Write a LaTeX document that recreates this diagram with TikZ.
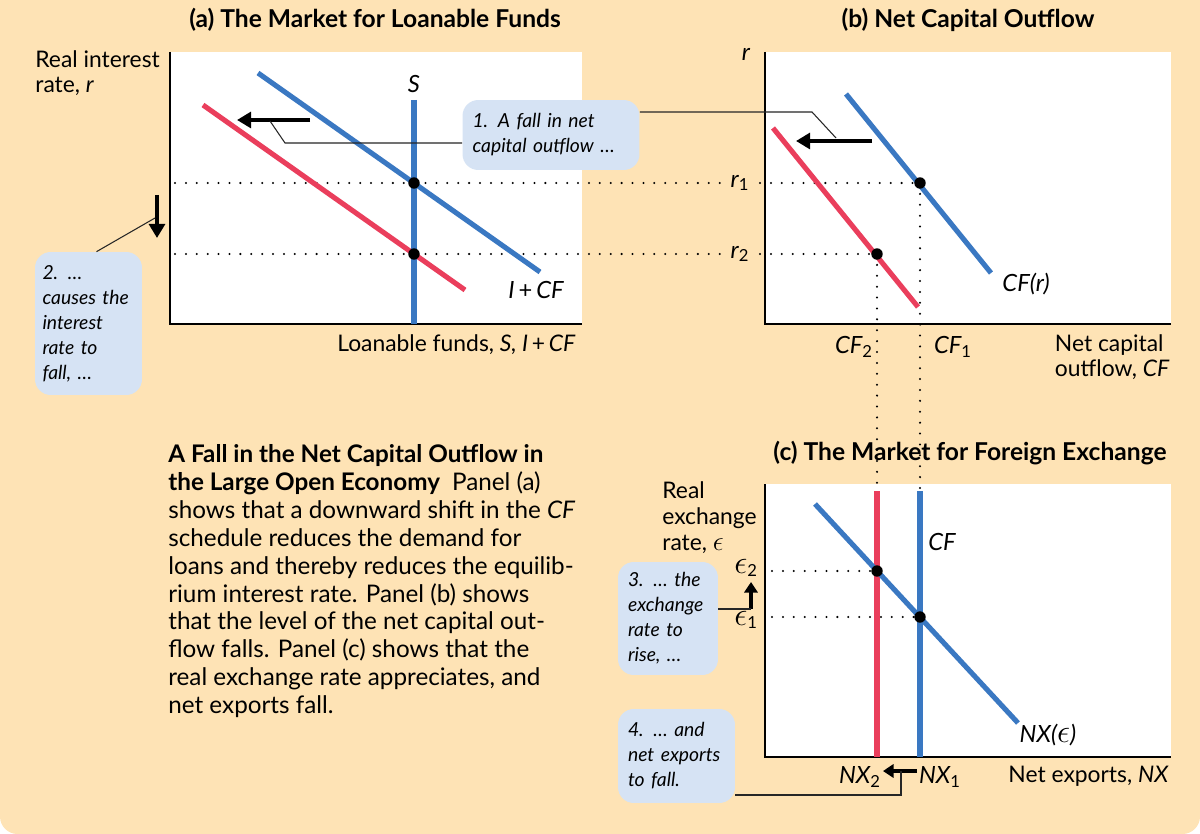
\documentclass[tikz,border=0pt]{standalone}
\usepackage{amsmath}
\usepackage{fontspec}
\setmainfont{Lato}
\usetikzlibrary{arrows.meta, positioning, calc}
\definecolor{bgpeach}{RGB}{254,227,181}
\definecolor{curveblue}{RGB}{58,120,194}
\definecolor{curvered}{RGB}{234,62,92}
\definecolor{notefill}{RGB}{214,227,244}
\newcommand{\paneltitlefont}{\fontsize{14}{16}\selectfont\bfseries}
\newcommand{\axislabelfont}{\fontsize{13}{14.4}\selectfont}
\newcommand{\curvelabelfont}{\fontsize{13.5}{15}\selectfont\itshape}
\newcommand{\calloutfont}{\fontsize{11}{14.2}\selectfont\itshape}
\newcommand{\captionfont}{\fontsize{13.8}{15.9}\selectfont}
\newcommand{\subidx}[1]{$_{\textup{#1}}$}
\newcommand{\exeps}{\scalebox{1.3}{$\epsilon$}}

\begin{document}
\begin{tikzpicture}[x=0.02cm, y=-0.02cm,
  plotbg/.style={fill=white},
  axisline/.style={line width=0.8pt},
  bluecurve/.style={draw=curveblue, line width=2.9pt},
  redcurve/.style={draw=curvered, line width=2.9pt},
  guide/.style={line width=1.3pt, dash pattern=on 0pt off 6.2pt, line cap=round},
  eqpt/.style={circle, fill=black, inner sep=0pt, minimum size=6.5pt},
  shiftarr/.style={-{Triangle[length=8pt, width=9pt]}, line width=2.8pt},
  smallarr/.style={-{Triangle[length=6pt, width=7.5pt]}, line width=2.4pt},
  leader/.style={line width=0.6pt, draw=black!85},
  note/.style={fill=notefill, rounded corners=9pt, align=left, inner xsep=0.2cm, inner ysep=0pt, font=\calloutfont},
  ptitle/.style={font=\paneltitlefont, inner sep=0pt},
  axlab/.style={font=\axislabelfont, align=left, inner sep=0pt},
  crvlab/.style={font=\curvelabelfont, inner sep=0pt}
]
  \useasboundingbox (0,0) rectangle (1200,834);
  \begin{scope}
    \clip (0,0) rectangle (1200,834);
    \fill[bgpeach, rounded corners=0.35cm] (0,-40) rectangle (1200,834);
  \end{scope}

  % panel titles
  \node[ptitle] (ta) at (375,20) {(a) The Market for Loanable Funds};
  \node[ptitle] (tb) at (968,20) {(b) Net Capital Outflow};
  \node[ptitle] (tc) at (970,453) {(c) The Market for Foreign Exchange};

  % plot areas
  \fill[plotbg] (170,52) rectangle (582,324);
  \fill[plotbg] (765,52) rectangle (1171,324);
  \fill[plotbg] (765,484) rectangle (1171,757);
  \draw[axisline] (170,52) -- (170,324) -- (582,324);
  \draw[axisline] (765,52) -- (765,324) -- (1171,324);
  \draw[axisline] (765,484) -- (765,757) -- (1171,757);

  % equilibrium points
  \coordinate (Ea1) at (414,183);
  \coordinate (Ea2) at (414,254);
  \coordinate (Eb1) at (920,183);
  \coordinate (Eb2) at (877,254);
  \coordinate (Ec2) at (877,571);
  \coordinate (Ec1) at (920,617);

  % dotted guides
  \draw[guide] (175,183) -- (726,183);
  \draw[guide] (175,254) -- (726,254);
  \draw[guide] (760,183) -- (Eb1);
  \draw[guide] (760,254) -- (Eb2);
  \draw[guide] (Eb1) -- (Ec1);
  \draw[guide] (Eb2) -- (Ec2);
  \draw[guide] (772,571) -- (Ec2);
  \draw[guide] (772,617) -- (Ec1);

  % panel (a) curves
  \coordinate (ica) at (258,73);
  \coordinate (icb) at (540,272);
  \coordinate (ira) at (203,105);
  \coordinate (irb) at (465,290);
  \draw[redcurve] (ira) -- (irb);
  \draw[bluecurve] (ica) -- (icb);
  \draw[bluecurve] (414,100) -- (414,324);

  % panel (b) curves
  \coordinate (cfa) at (846,94);
  \coordinate (cfb) at (991,273);
  \coordinate (cfra) at (773,128);
  \coordinate (cfrb) at (918,307);
  \draw[redcurve] (cfra) -- (cfrb);
  \draw[bluecurve] (cfa) -- (cfb);

  % panel (c) curves
  \coordinate (nxa) at (815,504);
  \coordinate (nxb) at (1018,723);
  \draw[redcurve] (877,491) -- (877,757);
  \draw[bluecurve] (920,491) -- (920,757);
  \draw[bluecurve] (nxa) -- (nxb);

  \foreach \p in {Ea1,Ea2,Eb1,Eb2,Ec1,Ec2}
    \node[eqpt] (dot\p) at (\p) {};

  % axis and curve labels
  \node[axlab, anchor=north west] (yla) at (35,50) {Real interest\\rate, \textit{r}};
  \node[crvlab] (ls) at (414,84) {S};
  \node[crvlab] (lic) at (536,290) {I\,\textup{+}\,CF};
  \node[axlab, anchor=east] (xla) at (576,345) {Loanable funds, \textit{S, I}\,+\,\textit{CF}};

  \node[crvlab] (ylb) at (746,54) {r};
  \node[crvlab] (lr1) at (740,183) {r\subidx{1}};
  \node[crvlab] (lr2) at (740,254) {r\subidx{2}};
  \node[crvlab] (lcfr) at (1026,284) {CF(r)};
  \node[crvlab] (lcf2) at (854,347) {CF\subidx{2}};
  \node[crvlab] (lcf1) at (953,347) {CF\subidx{1}};
  \node[axlab, anchor=north east] (xlb) at (1170,334) {Net capital\\outflow, \textit{CF}};

  \node[axlab, anchor=north west, font=\fontsize{13}{15}\selectfont] (ylc) at (662,481) {Real\\exchange\\rate, \exeps};
  \node[crvlab] (le2) at (746,568) {\exeps\subidx{2}};
  \node[crvlab] (le1) at (746,620) {\exeps\subidx{1}};
  \node[crvlab] (lcf) at (942,542) {CF};
  \node[crvlab] (lnxe) at (1048,735) {NX(\exeps)};
  \node[crvlab] (lnx2) at (860,777) {NX\subidx{2}};
  \node[crvlab] (lnx1) at (940,777) {NX\subidx{1}};
  \node[axlab, anchor=east] (xlc) at (1169,776) {Net exports, \textit{NX}};

  % shift arrows
  \coordinate (sa1) at (310,120);
  \coordinate (sa2) at (237,120);
  \coordinate (sb1) at (872,141);
  \coordinate (sb2) at (796,141);
  \coordinate (da1) at (157,195);
  \coordinate (da2) at (157,238);
  \coordinate (ua1) at (751,609);
  \coordinate (ua2) at (751,582);
  \coordinate (la1) at (917,771);
  \coordinate (la2) at (883,771);
  \draw[shiftarr] (sa1) -- (sa2);
  \draw[shiftarr] (sb1) -- (sb2);
  \draw[shiftarr] (da1) -- (da2);
  \draw[smallarr] (ua1) -- (ua2);
  \draw[smallarr] (la1) -- (la2);

  % callout notes
  \node[note, text width=3.14cm, minimum width=3.54cm, minimum height=1.4cm] (note1) at (551,135)
    {1. A fall in net\\capital outflow \dots};
  \node[note, text width=1.84cm, inner xsep=0.15cm, minimum width=2.14cm, minimum height=2.86cm] (note2) at (88.5,323.5)
    {2. \dots\\causes the\\interest\\rate to\\fall, \dots};
  \node[note, text width=1.6cm, minimum width=2cm, minimum height=2.26cm] (note3) at (668,618.5)
    {3. \dots\ the\\exchange\\rate to\\rise, \dots};
  \node[note, text width=1.94cm, minimum width=2.34cm, minimum height=1.88cm] (note4) at (676.5,756)
    {4. \dots\ and\\net exports\\to fall.};

  % leader lines
  \coordinate (k1a) at (285,143);
  \coordinate (k1b) at (270,121);
  \coordinate (k1c) at (812,112);
  \coordinate (k1d) at (836,138);
  \coordinate (k2) at (155,218);
  \coordinate (k4) at (901,795);
  \coordinate (k4t) at (901,771);
  \draw[leader] (note1.west |- k1a) -- (k1a) -- (k1b);
  \draw[leader] (note1.east |- k1c) -- (k1c) -- (k1d);
  \draw[leader] ($(note2.north)+(8,0)$) -- (k2);
  \draw[leader] (note3.east |- ua1) -- (ua1);
  \draw[leader] (note4.east |- k4) -- (k4) -- (k4t);

  % caption
  \node[font=\captionfont, align=left, inner sep=0pt, anchor=north west] (cap) at (168,444)
    {\textbf{A Fall in the Net Capital Outflow in}\\
     \textbf{the Large Open Economy}\enspace Panel (a)\\
     shows that a downward shift in the \textit{CF}\\
     schedule reduces the demand for\\
     loans and thereby reduces the equilib-\\
     rium interest rate. Panel (b) shows\\
     that the level of the net capital out-\\
     flow falls. Panel (c) shows that the\\
     real exchange rate appreciates, and\\
     net exports fall.};
\end{tikzpicture}
\end{document}
